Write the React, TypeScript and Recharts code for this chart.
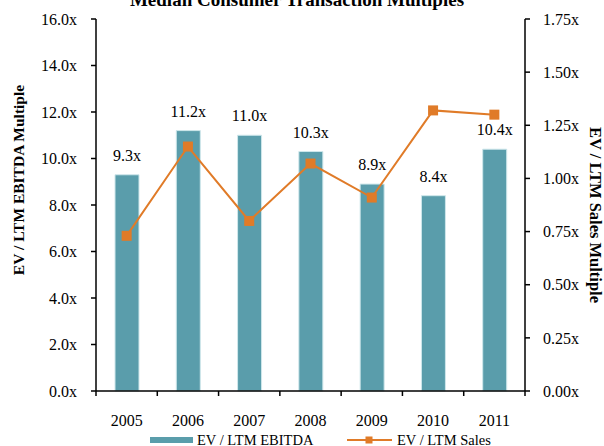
import { ComposedChart, Bar, Line, XAxis, YAxis, LabelList } from "recharts";

const years = ["2005", "2006", "2007", "2008", "2009", "2010", "2011"];
const ebitdaMultiples = [9.3, 11.2, 11.0, 10.3, 8.9, 8.4, 10.4];
const salesMultiples = [0.73, 1.15, 0.8, 1.07, 0.91, 1.32, 1.3];
const leftTicks = [0, 2, 4, 6, 8, 10, 12, 14, 16];
const rightTicks = [0, 0.25, 0.5, 0.75, 1.0, 1.25, 1.5, 1.75];

const data = years.map((year, i) => ({
  year,
  ebitda: ebitdaMultiples[i],
  sales: salesMultiples[i],
}));

const TEAL = "#5a9dab";
const ORANGE = "#e07b28";
const FONT = "'Liberation Serif', 'Times New Roman', serif";

const XTick = (props: any) => {
  const { x, y, payload, index } = props;
  const half = payload.offset || 0;
  const axisY = y - 24;
  return (
    <g>
      <line x1={x - half} x2={x - half} y1={axisY} y2={axisY + 5} stroke="#000" strokeWidth={1.5} />
      {index === years.length - 1 && (
        <line x1={x + half} x2={x + half} y1={axisY} y2={axisY + 5} stroke="#000" strokeWidth={1.5} />
      )}
      <text x={x} y={y} dy="0.71em" textAnchor="middle" fontSize={16} fontFamily={FONT} fill="#000">
        {payload.value}
      </text>
    </g>
  );
};

const SquareDot = (props: any) => {
  const { cx, cy } = props;
  if (cx == null || cy == null) return null;
  return <rect x={cx - 5} y={cy - 5} width={10} height={10} fill={ORANGE} />;
};

export default function App() {
  const tickStyle = { fontSize: 16, fill: "#000", fontFamily: FONT };
  return (
    <div style={{ position: "absolute", left: 0, top: 0, width: 604, height: 446, background: "#fff" }}>
      <ComposedChart width={604} height={446} data={data} margin={{ top: 19, right: 0, bottom: 0, left: 0 }}>
        <XAxis
          dataKey="year"
          height={55}
          axisLine={{ stroke: "#000", strokeWidth: 1.5 }}
          tickLine={false}
          tickSize={5}
          tickMargin={19}
          tick={<XTick />}
          interval={0}
        />
        <YAxis
          yAxisId="left"
          width={96}
          domain={[0, 16]}
          ticks={leftTicks}
          tickFormatter={(v: number) => `${v.toFixed(1)}x`}
          axisLine={{ stroke: "#000", strokeWidth: 1.5 }}
          tickLine={{ stroke: "#000", strokeWidth: 1.5 }}
          tickSize={5}
          tickMargin={14}
          tick={tickStyle}
          interval={0}
        />
        <YAxis
          yAxisId="right"
          orientation="right"
          width={79}
          domain={[0, 1.75]}
          ticks={rightTicks}
          tickFormatter={(v: number) => `${v.toFixed(2)}x`}
          axisLine={{ stroke: "#000", strokeWidth: 1.5 }}
          tickLine={{ stroke: "#000", strokeWidth: 1.5 }}
          tickSize={5}
          tickMargin={13}
          tick={{ ...tickStyle, textAnchor: "start" }}
          interval={0}
        />
        <Bar
          yAxisId="left"
          dataKey="ebitda"
          fill={TEAL}
          stroke="#cfe7eb"
          strokeWidth={1}
          barSize={24}
          isAnimationActive={false}
        >
          <LabelList
            dataKey="ebitda"
            position="top"
            offset={14}
            formatter={(v: any) => `${Number(v).toFixed(1)}x`}
            style={{ fontSize: 16, fill: "#000", fontFamily: FONT }}
          />
        </Bar>
        <Line
          yAxisId="right"
          dataKey="sales"
          stroke={ORANGE}
          strokeWidth={2}
          dot={<SquareDot />}
          activeDot={false}
          isAnimationActive={false}
        />
        <text x={297} y={6} textAnchor="middle" fontSize={19} fontWeight="bold" fontFamily={FONT} fill="#000">
          Median Consumer Transaction Multiples
        </text>
        <text
          x={24}
          y={180}
          transform="rotate(-90 24 180)"
          textAnchor="middle"
          fontSize={15.5}
          fontWeight="bold"
          fontFamily={FONT}
          fill="#000"
        >
          EV / LTM EBITDA Multiple
        </text>
        <text
          x={590}
          y={215}
          transform="rotate(90 590 215)"
          textAnchor="middle"
          fontSize={16.5}
          fontWeight="bold"
          fontFamily={FONT}
          fill="#000"
        >
          EV / LTM Sales Multiple
        </text>
        <g>
          <rect x={150} y={437} width={43} height={6} fill={TEAL} />
          <text x={197} y={444.5} fontSize={14.5} fontFamily={FONT} fill="#000">
            EV / LTM EBITDA
          </text>
          <line x1={347} x2={392} y1={440} y2={440} stroke={ORANGE} strokeWidth={2} />
          <rect x={365.5} y={436.5} width={7} height={7} fill={ORANGE} />
          <text x={397} y={444.5} fontSize={14.5} fontFamily={FONT} fill="#000">
            EV / LTM Sales
          </text>
        </g>
      </ComposedChart>
    </div>
  );
}
